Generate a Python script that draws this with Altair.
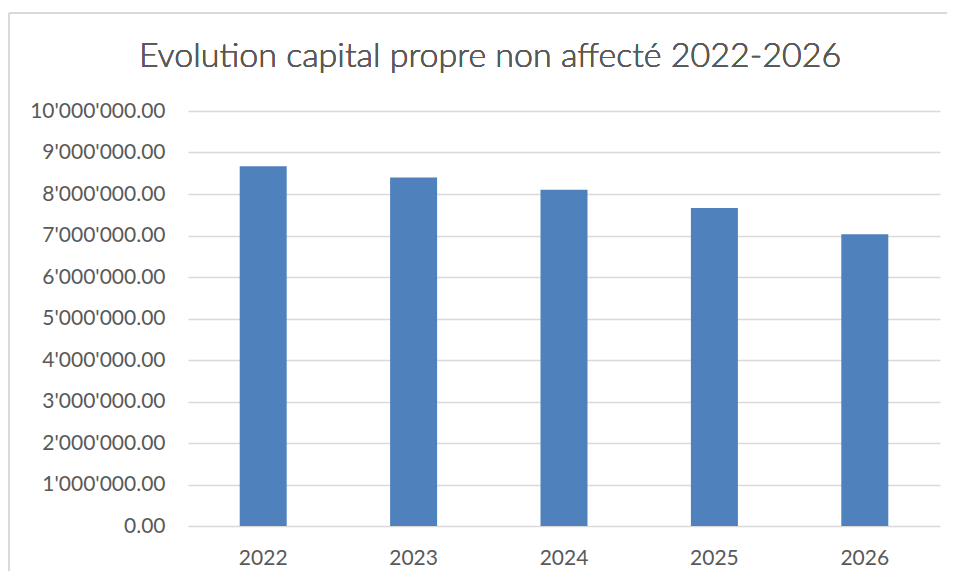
import altair as alt
import pandas as pd

years = ["2022", "2023", "2024", "2025", "2026"]
values = [8670000, 8400000, 8100000, 7660000, 7030000]
y_ticks = [0, 1000000, 2000000, 3000000, 4000000, 5000000,
           6000000, 7000000, 8000000, 9000000, 10000000]
title_text = "Evolution capital propre non affecté 2022-2026"

df = pd.DataFrame({"year": years, "value": values})

FONT = "Lato"
GREY = "#595959"

bars = alt.Chart(df).mark_bar(color="#4f81bd").encode(
    x=alt.X("year:N", sort=years,
            scale=alt.Scale(paddingInner=0.6875, paddingOuter=0.34375),
            axis=alt.Axis(title=None, labelAngle=0, ticks=False, domain=False,
                          labelFont=FONT, labelFontSize=21, labelColor=GREY,
                          labelPadding=21, grid=False)),
    y=alt.Y("value:Q",
            scale=alt.Scale(domain=[0, 10000000], nice=False),
            axis=alt.Axis(title=None, values=y_ticks, ticks=False, domain=False,
                          labelFont=FONT, labelFontSize=21, labelColor=GREY,
                          labelPadding=23, gridColor="#d9d9d9", gridWidth=1.5,
                          labelExpr="join(split(format(datum.value, ',.2f'), ','), \"'\")")),
)

frame_top = alt.Chart(df).mark_rule(stroke="#d9d9d9", strokeWidth=1.5, clip=False).encode(
    x=alt.value(-179), x2=alt.value(800), y=alt.value(-98)
)
frame_left = alt.Chart(df).mark_rule(stroke="#d9d9d9", strokeWidth=1.5, clip=False).encode(
    x=alt.value(-179), y=alt.value(-98), y2=alt.value(500)
)

title = alt.Chart(df).mark_text(font=FONT, fontSize=34, fontWeight=300, color=GREY,
                                align="center", baseline="alphabetic").encode(
    x=alt.value(302), y=alt.value(-44), text=alt.value(title_text)
)

chart = alt.layer(frame_top, frame_left, bars, title).properties(
    width=752, height=415,
    autosize=alt.AutoSizeParams(type="none"),
    padding={"left": 180, "top": 103, "right": 7, "bottom": 45},
).configure_view(stroke=None)

chart.save("out.html", embed_options={"renderer": "svg", "actions": False})
